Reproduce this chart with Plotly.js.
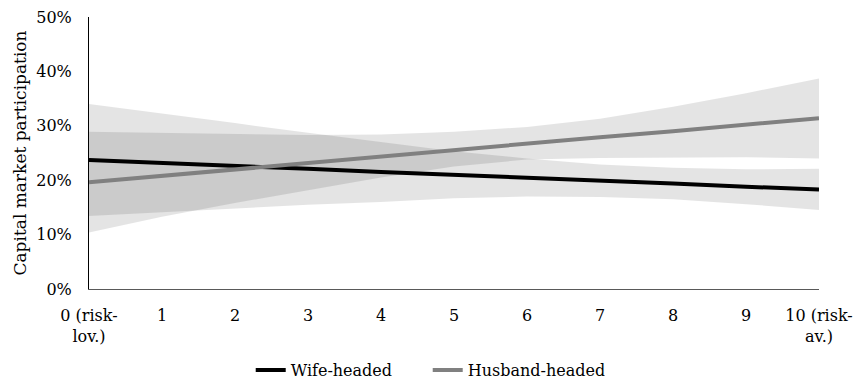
<!DOCTYPE html>
<html>
<head>
<meta charset="utf-8">
<script src="https://cdn.plot.ly/plotly-3.0.1.min.js"></script>
<style>html,body{margin:0;padding:0;background:#fff;}#chart{width:854px;height:385px;}</style>
</head>
<body>
<div id="chart"></div>
<script>
// Risk attitude scale positions and tick labels
const riskScale = [0, 1, 2, 3, 4, 5, 6, 7, 8, 9, 10];
const tickLabels = ["0 (risk-<br>lov.)", "1", "2", "3", "4", "5", "6", "7", "8", "9", "10 (risk-<br>av.)"];

// Predicted capital market participation (%) — wife-headed households
const wifeLine  = [23.7, 23.2, 22.6, 22.1, 21.5, 21.0, 20.5, 19.9, 19.4, 18.8, 18.3];
const wifeUpper = [34.0, 32.3, 30.5, 28.7, 27.0, 25.3, 24.0, 22.9, 22.3, 22.0, 22.1];
const wifeLower = [13.4, 14.1, 14.7, 15.5, 16.0, 16.7, 17.0, 16.9, 16.5, 15.6, 14.5];

// Predicted capital market participation (%) — husband-headed households
const husbandLine  = [19.6, 20.8, 22.0, 23.1, 24.3, 25.5, 26.7, 27.9, 29.0, 30.2, 31.4];
const husbandUpper = [28.9, 28.7, 28.5, 28.3, 28.4, 28.9, 29.8, 31.3, 33.5, 36.0, 38.7];
const husbandLower = [10.4, 13.3, 15.8, 18.1, 20.5, 22.5, 23.8, 24.1, 24.2, 24.2, 24.0];

const seriesNames = ["Wife-headed", "Husband-headed"];
const yTitle = "Capital market participation";

const FONT = "DejaVu Serif, Liberation Serif, serif";
const band = "rgba(0,0,0,0.105)";

const traces = [
  {x: riskScale, y: wifeLower, mode: "lines", line: {width: 0}, showlegend: false, hoverinfo: "skip"},
  {x: riskScale, y: wifeUpper, mode: "lines", line: {width: 0}, fill: "tonexty", fillcolor: band, showlegend: false, hoverinfo: "skip"},
  {x: riskScale, y: husbandLower, mode: "lines", line: {width: 0}, showlegend: false, hoverinfo: "skip"},
  {x: riskScale, y: husbandUpper, mode: "lines", line: {width: 0}, fill: "tonexty", fillcolor: band, showlegend: false, hoverinfo: "skip"},
  {x: riskScale, y: wifeLine, mode: "lines", name: seriesNames[0], line: {color: "#000000", width: 4}},
  {x: riskScale, y: husbandLine, mode: "lines", name: seriesNames[1], line: {color: "#808080", width: 4}}
];

const layout = {
  width: 854, height: 385,
  margin: {l: 89, r: 35, t: 17, b: 96, autoexpand: false},
  paper_bgcolor: "#ffffff", plot_bgcolor: "#ffffff",
  font: {family: FONT, size: 16, color: "#000000"},
  showlegend: true,
  legend: {orientation: "h", traceorder: "normal", x: 0.464, xanchor: "center", y: -0.298, yanchor: "middle",
           entrywidth: 132, entrywidthmode: "pixels",
           font: {family: FONT, size: 16, color: "#000000"}},
  xaxis: {
    range: [0, 10], tickvals: riskScale, ticktext: tickLabels, automargin: false,
    showgrid: false, zeroline: false, showline: true, linecolor: "#595959", linewidth: 1,
    ticks: "", ticklabelstandoff: 12,
    tickfont: {family: FONT, size: 16, color: "#000000"}, fixedrange: true
  },
  yaxis: {
    range: [0, 50], dtick: 10, tick0: 0, ticksuffix: "%", automargin: false,
    showgrid: false, zeroline: false, showline: true, linecolor: "#000000", linewidth: 1,
    ticks: "", ticklabelstandoff: 13,
    tickfont: {family: FONT, size: 16, color: "#000000"},
    title: {text: yTitle, font: {family: FONT, size: 17, color: "#000000"}, standoff: 5},
    fixedrange: true
  }
};

Plotly.newPlot("chart", traces, layout, {displayModeBar: false, staticPlot: true});
</script>
</body>
</html>
